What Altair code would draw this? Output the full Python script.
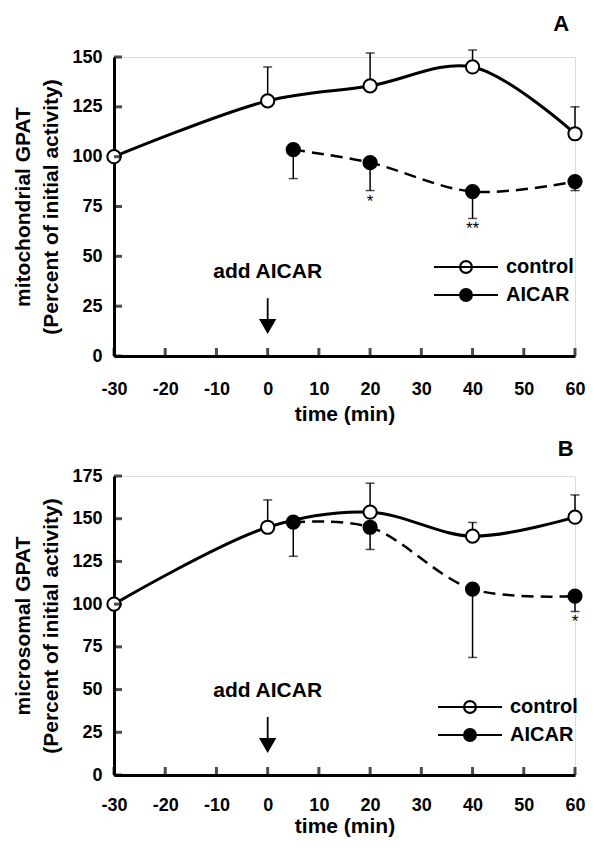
import altair as alt
import pandas as pd

FONT = "Liberation Sans"

# ---------------- data ----------------
series_names = ["control", "AICAR"]

ctrl_time = [-30, 0, 20, 40, 60]
aicar_time = [5, 20, 40, 60]

# Panel A (mitochondrial GPAT)
a_ctrl_mean = [100, 128, 135.5, 145, 111.5]
a_ctrl_sem = [0, 17, 16.5, 8.5, 13.5]
a_aicar_mean = [103.5, 97, 82.5, 87.5]
a_aicar_sem = [14.5, 14, 13.5, 4.5]
a_stars = ["", "*", "**", ""]

# Panel B (microsomal GPAT)
b_ctrl_mean = [100, 145, 153.8, 139.8, 150.9]
b_ctrl_sem = [0, 16, 17, 8, 13]
b_aicar_mean = [148, 145, 108.8, 104.7]
b_aicar_sem = [20, 13, 40, 9]
b_stars = ["", "", "", "*"]

x_ticks = [-30, -20, -10, 0, 10, 20, 30, 40, 50, 60]
a_y_ticks = [0, 25, 50, 75, 100, 125, 150]
b_y_ticks = [0, 25, 50, 75, 100, 125, 150, 175]

# legend symbol: a line with a circle on it
LEG_PATH = ("M-3.05,0L3.05,0M0.56,0A0.56,0.56,0,1,1,-0.56,0"
            "A0.56,0.56,0,1,1,0.56,0Z")

PLOT_W = 461


def panel(ctrl_mean, ctrl_sem, aicar_mean, aicar_sem, stars, y_ticks,
          ymax, ytitle, letter, ann, leg_xy, x_lab_pad, x_title_pad):
    ctrl = pd.DataFrame({"t": ctrl_time, "y": ctrl_mean, "sem": ctrl_sem,
                         "series": series_names[0]})
    aic = pd.DataFrame({"t": aicar_time, "y": aicar_mean, "sem": aicar_sem,
                        "series": series_names[1], "star": stars})
    ctrl["lo"] = ctrl["y"]
    ctrl["hi"] = ctrl["y"] + ctrl["sem"]
    aic["lo"] = aic["y"] - aic["sem"]
    aic["hi"] = aic["y"]
    err = pd.concat([ctrl[ctrl["sem"] > 0], aic])
    err["cap"] = err.apply(lambda r: r["hi"] if r["series"] == "control" else r["lo"], axis=1)
    pts = pd.concat([ctrl, aic])

    xscale = alt.Scale(domain=[-30, 60], nice=False, zero=False)
    yscale = alt.Scale(domain=[0, ymax], nice=False)
    xaxis = alt.Axis(values=x_ticks, title="time (min)", ticks=False, tickSize=0,
                     labelPadding=x_lab_pad, titlePadding=x_title_pad, grid=False,
                     labelExpr="'' + datum.value",
                     domainColor="black", domainWidth=3, labelFont=FONT,
                     labelFontSize=18, labelFontWeight="bold", labelColor="black",
                     titleFont=FONT, titleFontSize=21, titleFontWeight="bold",
                     titleColor="black", labelFlush=False)
    yaxis = alt.Axis(values=y_ticks, title=ytitle, ticks=False, tickSize=0,
                     labelPadding=12, titlePadding=10, grid=False,
                     domainColor="black", domainWidth=3, labelFont=FONT,
                     labelFontSize=18, labelFontWeight="bold", labelColor="black",
                     titleFont=FONT, titleFontSize=21, titleFontWeight="bold",
                     titleColor="black", titleLineHeight=28, labelFlush=False)

    def X(f):
        return alt.X(f, type="quantitative", scale=xscale, axis=xaxis)

    def Y(f):
        return alt.Y(f, type="quantitative", scale=yscale, axis=yaxis)

    base_ctrl = alt.Chart(ctrl)
    base_aic = alt.Chart(aic)

    line_ctrl = base_ctrl.mark_line(color="black", strokeWidth=3,
                                    interpolate="catmull-rom").encode(x=X("t"), y=Y("y"))
    line_aic = base_aic.mark_line(color="black", strokeWidth=2.5, strokeDash=[12, 7],
                                  interpolate="catmull-rom").encode(x=X("t"), y=Y("y"))

    err_rule = alt.Chart(err).mark_rule(color="black", strokeWidth=1.5).encode(
        x=X("t"), y=Y("lo"), y2="hi")
    err_cap = alt.Chart(err).mark_tick(color="black", orient="horizontal", size=9,
                                       thickness=1.5).encode(x=X("t"), y=Y("cap"))

    points = alt.Chart(pts).mark_point(filled=True, stroke="black", strokeWidth=2,
                                       size=175, opacity=1, shape="circle").encode(
        x=X("t"), y=Y("y"),
        fill=alt.Fill("series:N",
                      scale=alt.Scale(domain=series_names, range=["white", "black"]),
                      legend=alt.Legend(title=None, orient="none",
                                        legendX=leg_xy[0], legendY=leg_xy[1],
                                        symbolType=LEG_PATH, symbolSize=441,
                                        symbolStrokeColor="black",
                                        symbolStrokeWidth=2.2,
                                        labelOffset=28, rowPadding=5,
                                        labelFont=FONT, labelFontSize=20,
                                        labelFontWeight="bold", labelColor="black")))

    star_txt = base_aic.mark_text(font=FONT, fontSize=17, baseline="top", dy=3,
                                  color="black").encode(
        x=X("t"), y=Y("lo"), text="star:N")

    yt = pd.DataFrame({"v": y_ticks})
    xt = pd.DataFrame({"v": x_ticks})
    ytick = alt.Chart(yt).mark_tick(color="black", orient="horizontal", size=8,
                                    thickness=3, xOffset=4).encode(
        x=alt.X(datum=-30, type="quantitative", scale=xscale, axis=xaxis), y=Y("v"))
    xtick = alt.Chart(xt).mark_tick(color="black", orient="vertical", size=8,
                                    thickness=3, yOffset=-4).encode(
        x=X("v"), y=alt.Y(datum=0, type="quantitative", scale=yscale, axis=yaxis))

    ann_df = pd.DataFrame({"t": [0], "text_y": [ann[0]], "a_top": [ann[1]],
                           "a_bot": [ann[2]], "head": [ann[3]],
                           "lt": [ann[4]], "ly": [ann[5]], "letter": [letter],
                           "label": ["add AICAR"]})
    ann_base = alt.Chart(ann_df)
    add_text = ann_base.mark_text(font=FONT, fontSize=21, fontWeight="bold",
                                  color="black").encode(x=X("t"), y=Y("text_y"),
                                                        text="label:N")
    arrow = ann_base.mark_rule(color="black", strokeWidth=1.8).encode(
        x=X("t"), y=Y("a_top"), y2="a_bot")
    head = ann_base.mark_point(shape="triangle-down", filled=True, color="black",
                               size=300, opacity=1).encode(x=X("t"), y=Y("head"))
    let = ann_base.mark_text(font=FONT, fontSize=22, fontWeight="bold",
                             color="black").encode(x=X("lt"), y=Y("ly"),
                                                   text="letter:N")

    return alt.layer(line_ctrl, line_aic, err_rule, err_cap, points, star_txt,
                     ytick, xtick, add_text, arrow, head, let).properties(
        width=PLOT_W, height=299)


a = panel(a_ctrl_mean, a_ctrl_sem, a_aicar_mean, a_aicar_sem, a_stars, a_y_ticks,
          150, ["mitochondrial GPAT", "(Percent of initial activity)"], "A",
          [42, 29, 17, 14.8, 57.3, 166.5], [340, 198], 24, 5)
b = panel(b_ctrl_mean, b_ctrl_sem, b_aicar_mean, b_aicar_sem, b_stars, b_y_ticks,
          175, ["microsomal GPAT", "(Percent of initial activity)"], "B",
          [49, 34, 20, 17.3, 58.2, 191], [344, 219], 21, 1)

chart = alt.vconcat(a, b, spacing=120, bounds="flush").resolve_scale(
    x="independent", y="independent", fill="independent").resolve_legend(
    fill="independent").properties(
    padding={"left": 4, "top": 4, "right": 0, "bottom": 0}
).configure_view(stroke=None).configure(background="white")

chart.save("out.html", embed_options={"renderer": "svg", "actions": False})
